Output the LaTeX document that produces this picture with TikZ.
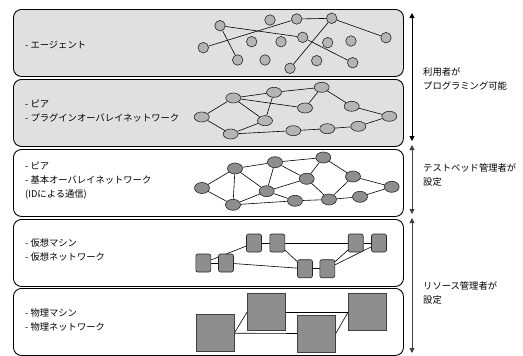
\documentclass[tikz,border=0pt]{standalone}
\usepackage{fontspec}
\setmainfont{Noto Sans CJK JP}
\usetikzlibrary{arrows.meta,shapes.geometric}
\pgfdeclarelayer{bg}
\pgfdeclarelayer{edges}
\pgfsetlayers{bg,edges,main}
\definecolor{panel}{HTML}{E0E0E0}
\definecolor{lnode}{HTML}{B4B4B4}
\definecolor{dnode}{HTML}{8E8E8E}
\definecolor{arrgray}{HTML}{404040}
\begin{document}
\begin{tikzpicture}[x=1pt,y=-1pt,
  font=\fontsize{9.3}{14}\selectfont,
  panelbox/.style={draw=black, line width=0.9pt, rounded corners=8pt, minimum width=390pt, minimum height=67pt, anchor=north west, inner sep=0pt},
  agent/.style={circle, draw=black!85, fill=lnode, line width=0.6pt, minimum size=10.5pt, inner sep=0pt},
  plug/.style={ellipse, draw=black!85, fill=lnode, line width=0.6pt, minimum width=15pt, minimum height=10pt, inner sep=0pt},
  peer/.style={ellipse, draw=black!85, fill=dnode, line width=0.6pt, minimum width=15pt, minimum height=11pt, inner sep=0pt},
  vm/.style={rectangle, rounded corners=2pt, draw=black!85, fill=dnode, line width=0.6pt, minimum width=15pt, minimum height=18pt, inner sep=0pt},
  pm/.style={rectangle, draw=black!75, fill=dnode, line width=0.5pt, minimum width=38pt, minimum height=37pt, inner sep=0pt},
  link/.style={draw=black, line width=0.6pt},
  lbl/.style={anchor=west, align=left, inner sep=0pt},
  span/.style={line width=0.8pt, {Triangle[length=5pt,width=5pt]}-{Triangle[length=5pt,width=5pt]}}
]
\path[use as bounding box] (0,0) rectangle (523,356);

% panels
\begin{pgfonlayer}{bg}
\node[panelbox, fill=panel] (p1) at (13,9) {};
\node[panelbox, fill=panel] (p2) at (13,79) {};
\node[panelbox, fill=white] (p3) at (13,149) {};
\node[panelbox, fill=white] (p4) at (13,219) {};
\node[panelbox, fill=white] (p5) at (13,288) {};
\end{pgfonlayer}

% left labels
\node[lbl] (t1) at (25,45) {- エージェント};
\node[lbl] (t2) at (25,111) {- ピア\\- プラグインオーバレイネットワーク};
\node[lbl] (t3) at (25,181) {- ピア\\- 基本オーバレイネットワーク\\(IDによる通信)};
\node[lbl] (t4) at (25,250) {- 仮想マシン\\- 仮想ネットワーク};
\node[lbl] (t5) at (25,320) {- 物理マシン\\- 物理ネットワーク};

% right labels
\node[lbl] (r1) at (423,79) {利用者が\\プログラミング可能};
\node[lbl] (r2) at (423,175) {テストベッド管理者が\\設定};
\node[lbl] (r3) at (423,293) {リソース管理者が\\設定};

% arrows
\coordinate (a1t) at (412,13);
\coordinate (a1b) at (412,141);
\coordinate (a2t) at (412,145);
\coordinate (a2b) at (412,214);
\coordinate (a3t) at (412,218);
\coordinate (a3b) at (412,353);
\draw[span, black] (a1t) -- (a1b);
\draw[span, arrgray] (a2t) -- (a2b);
\draw[span, arrgray] (a3t) -- (a3b);

% layer 1: agents
\node[agent] (A) at (220,25.7) {};
\node[agent] (B) at (203.3,47.7) {};
\node[agent] (C) at (237.7,60) {};
\node[agent] (D) at (270,20) {};
\node[agent] (E) at (296.7,19) {};
\node[agent] (F) at (331.7,18.3) {};
\node[agent] (G) at (251.7,41.7) {};
\node[agent] (H) at (281,41.7) {};
\node[agent] (I) at (302.7,37.3) {};
\node[agent] (J) at (327.7,42.7) {};
\node[agent] (K) at (351,41) {};
\node[agent] (L) at (386,37.7) {};
\node[agent] (M) at (265,60) {};
\node[agent] (N) at (290,68.3) {};
\node[agent] (O) at (316.7,60.7) {};
\node[agent] (P) at (352.7,62.7) {};
\begin{pgfonlayer}{edges}
\draw[link] (A) -- (C);
\draw[link] (B) -- (E);
\draw[link] (A) -- (I);
\draw[link] (I) -- (P);
\draw[link] (E) -- (F);
\draw[link] (F) -- (L);
\draw[link] (F) -- (N);
\end{pgfonlayer}

% layer 2: plugin overlay
\node[plug] (qa) at (201.7,117) {};
\node[plug] (qb) at (233.3,98) {};
\node[plug] (qc) at (274,92.3) {};
\node[plug] (qd) at (321.7,87.3) {};
\node[plug] (qe) at (305,108) {};
\node[plug] (qf) at (351.7,106.3) {};
\node[plug] (qg) at (389.3,116.3) {};
\node[plug] (qh) at (265,120.7) {};
\node[plug] (qi) at (230.7,134) {};
\node[plug] (qj) at (293.3,130.7) {};
\node[plug] (qk) at (327.3,128.7) {};
\node[plug] (ql) at (358.3,126.3) {};
\begin{pgfonlayer}{edges}
\foreach \u/\v in {qa/qb,qa/qi,qb/qc,qb/qe,qb/qh,qc/qd,qc/qh,qd/qe,qd/qf,qf/qg,qh/qi,qi/qj,qj/qk,qk/ql,ql/qg}
  \draw[link] (\u) -- (\v);
\end{pgfonlayer}

% layer 3: base overlay
\node[peer] (sa) at (202,188) {};
\node[peer] (sb) at (235,168.5) {};
\node[peer] (sc) at (275,162.2) {};
\node[peer] (sd) at (323.3,157.5) {};
\node[peer] (se) at (306.7,178.8) {};
\node[peer] (sf) at (353,176.5) {};
\node[peer] (sg) at (391.7,186.8) {};
\node[peer] (sh) at (266.7,191.2) {};
\node[peer] (si) at (233,204.8) {};
\node[peer] (sj) at (295,200.8) {};
\node[peer] (sk) at (329,199.5) {};
\node[peer] (sl) at (360,196.8) {};
\begin{pgfonlayer}{edges}
\foreach \u/\v in {sa/sb,sa/si,sb/sc,sb/si,sb/sh,sc/sh,sc/se,sc/sd,sd/se,sd/sf,se/sh,se/sk,sf/sk,sf/sg,sh/sj,sh/si,si/sj,sj/sk,sk/sl,sl/sg}
  \draw[link] (\u) -- (\v);
\end{pgfonlayer}

% layer 4: virtual machines
\node[vm] (v1) at (203.3,263) {};
\node[vm] (v2) at (226,263) {};
\node[vm] (v3) at (254,243) {};
\node[vm] (v4) at (277.3,243) {};
\node[vm] (v5) at (305,268.7) {};
\node[vm] (v6) at (327.3,268.7) {};
\node[vm] (v7) at (355.7,243) {};
\node[vm] (v8) at (379,243) {};
\begin{pgfonlayer}{edges}
\foreach \u/\v in {v1/v2,v1/v3,v2/v5,v3/v4,v4/v7,v4/v5,v5/v6,v6/v7,v6/v8,v7/v8}
  \draw[link] (\u) -- (\v);
\end{pgfonlayer}

% layer 5: physical machines
\node[pm] (m1) at (215,333.2) {};
\node[pm] (m2) at (266.5,311.8) {};
\node[pm] (m3) at (316.5,333.5) {};
\node[pm] (m4) at (367.5,311.8) {};
\begin{pgfonlayer}{edges}
\draw[link] (m1.east) -- (m2.west);
\draw[link] (m1.east) -- (m3.west);
\draw[link] (m2.east) -- (m4.west);
\draw[link] (m3.east) -- (m4.west);
\end{pgfonlayer}
\end{tikzpicture}
\end{document}
